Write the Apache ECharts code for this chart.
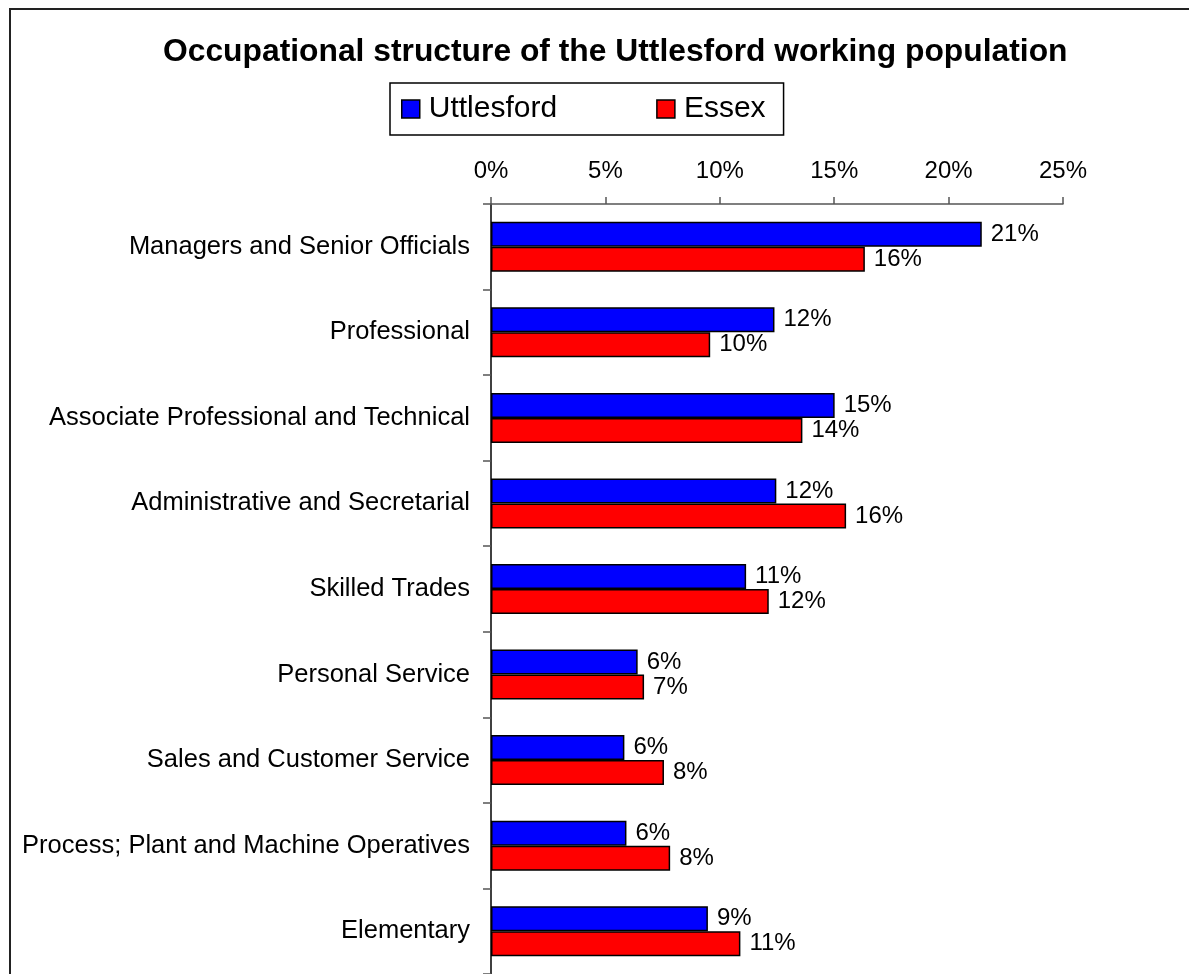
<!DOCTYPE html>
<html>
<head>
<meta charset="utf-8">
<title>Occupational structure of the Uttlesford working population</title>
<script src="https://cdn.jsdelivr.net/npm/echarts@6/dist/echarts.min.js"></script>
<style>
  html, body { margin: 0; padding: 0; background: #fff; }
  #chart { width: 1189px; height: 974px; }
</style>
</head>
<body>
<div id="chart"></div>
<script>
// occupation groups, top to bottom
const categories = [
  'Managers and Senior Officials',
  'Professional',
  'Associate Professional and Technical',
  'Administrative and Secretarial',
  'Skilled Trades',
  'Personal Service',
  'Sales and Customer Service',
  'Process; Plant and Machine Operatives',
  'Elementary'
]

// share of working population, %
const uttlesford = [21.45, 12.39, 15.02, 12.47, 11.15, 6.41, 5.83, 5.92, 9.48]
const essex = [16.34, 9.58, 13.61, 15.52, 12.14, 6.69, 7.56, 7.83, 10.9]

const seriesNames = ['Uttlesford', 'Essex']
const xTicks = { min: 0, max: 25, interval: 5 }

const font = "'Liberation Sans', Arial, sans-serif"
const chart = echarts.init(document.getElementById('chart'))

function barSeries(name, values, color) {
  return {
    name,
    type: 'bar',
    data: values,
    barWidth: 25,
    barGap: '0%',
    itemStyle: { color, borderColor: '#000', borderWidth: 1.5 },
    label: {
      show: true,
      position: 'right',
      distance: 9,
      fontFamily: font,
      fontSize: 24,
      color: '#000',
      formatter: p => Math.round(p.value) + '%'
    }
  }
}

chart.setOption({
  animation: false,
  backgroundColor: '#fff',
  textStyle: { fontFamily: font },
  title: {
    text: 'Occupational structure of the Uttlesford working population',
    left: 163,
    top: 36,
    padding: 0,
    textStyle: { fontFamily: font, fontSize: 31.8, fontWeight: 'bold', color: '#000' }
  },
  legend: {
    data: seriesNames,
    left: 390,
    top: 83,
    padding: [11, 18, 11, 11],
    itemGap: 99,
    itemWidth: 26,
    itemHeight: 18,
    icon: 'path://M0,0H10V10H0Z',
    borderColor: '#000',
    borderWidth: 1.5,
    textStyle: { fontFamily: font, fontSize: 30, color: '#000' },
    itemStyle: { borderColor: '#000', borderWidth: 1.5 }
  },
  graphic: [{
    type: 'rect',
    shape: { x: 10, y: 9, width: 1300, height: 1100 },
    style: { fill: 'none', stroke: '#222', lineWidth: 2 },
    silent: true,
    z: -1
  }],
  grid: { left: 491, top: 204, right: 126, height: 774 },
  xAxis: {
    type: 'value',
    position: 'top',
    min: xTicks.min,
    max: xTicks.max,
    interval: xTicks.interval,
    axisLine: { show: true, lineStyle: { color: '#555', width: 1.5 } },
    axisTick: { show: true, length: 7, lineStyle: { color: '#555', width: 1.5 } },
    splitLine: { show: false },
    axisLabel: {
      margin: 21,
      fontFamily: font,
      fontSize: 24,
      color: '#000',
      formatter: '{value}%'
    }
  },
  yAxis: {
    type: 'category',
    data: categories,
    inverse: true,
    axisLine: { show: true, lineStyle: { color: '#000', width: 1.5 } },
    axisTick: { show: true, length: 8, lineStyle: { color: '#555', width: 1.5 } },
    axisLabel: {
      margin: 21,
      padding: [6, 0, 0, 0],
      fontFamily: font,
      fontSize: 25.5,
      color: '#000'
    }
  },
  series: [
    barSeries(seriesNames[0], uttlesford, '#0000ff'),
    barSeries(seriesNames[1], essex, '#ff0000')
  ]
})
</script>
</body>
</html>
